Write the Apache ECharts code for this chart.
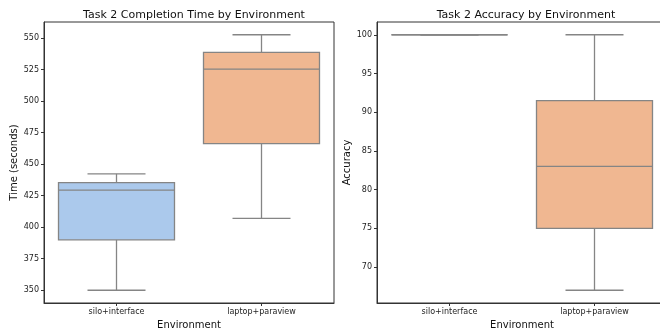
<!DOCTYPE html>
<html>
<head>
<meta charset="utf-8">
<script src="https://cdn.jsdelivr.net/npm/echarts@6/dist/echarts.min.js"></script>
<style>html,body{margin:0;padding:0;background:#fff}#c{width:660px;height:330px}</style>
</head>
<body>
<div id="c"></div>
<script>
const categories = ['silo+interface', 'laptop+paraview'];
// [low whisker, Q1, median, Q3, high whisker]
const timeStats = [
  [350, 390, 429.4, 435.4, 442.3],
  [407, 466.3, 525.4, 538.6, 552.6]
];
const accuracyStats = [
  [100, 100, 100, 100, 100],
  [67, 75, 83, 91.5, 100]
];
const timeTicks = [350, 375, 400, 425, 450, 475, 500, 525, 550];
const accTicks = [70, 75, 80, 85, 90, 95, 100];
const boxColors = ['#abc9ec', '#f0b791'];

const edge = '#858585';
const font = 'DejaVu Sans';

function renderBox(params, api) {
  const i = api.value(0);
  const v = [api.value(1), api.value(2), api.value(3), api.value(4), api.value(5)];
  const p = v.map(val => api.coord([i, val]));
  const band = api.size([1, 0])[0];
  const bw = band * 0.8;
  const cx = p[0][0];
  const st = {stroke: edge, lineWidth: 1.3};
  return {
    type: 'group',
    children: [
      {type: 'line', shape: {x1: cx, y1: p[0][1], x2: cx, y2: p[1][1]}, style: st},
      {type: 'line', shape: {x1: cx, y1: p[3][1], x2: cx, y2: p[4][1]}, style: st},
      {type: 'line', shape: {x1: cx - bw / 4, y1: p[0][1], x2: cx + bw / 4, y2: p[0][1]}, style: st},
      {type: 'line', shape: {x1: cx - bw / 4, y1: p[4][1], x2: cx + bw / 4, y2: p[4][1]}, style: st},
      {type: 'rect', shape: {x: cx - bw / 2, y: p[3][1], width: bw, height: p[1][1] - p[3][1]},
        style: {fill: boxColors[i], stroke: edge, lineWidth: 1.3}},
      {type: 'line', shape: {x1: cx - bw / 2, y1: p[2][1], x2: cx + bw / 2, y2: p[2][1]}, style: st}
    ]
  };
}

function toData(stats) {
  return stats.map((s, i) => [i].concat(s));
}

const axisLine = {show: true, lineStyle: {color: '#333', width: 1}};
const tickLbl = {fontFamily: font, fontSize: 8, color: '#222'};

function yAxis(idx, min, max, name, ticks) {
  return {
    type: 'value', gridIndex: idx, min: min, max: max,
    name: name, nameLocation: 'middle', nameGap: 20,
    nameTextStyle: {fontFamily: font, fontSize: 10, color: '#111'},
    axisLine: axisLine, splitLine: {show: false},
    axisTick: {show: true, length: 3, lineStyle: {color: '#333'}, customValues: ticks},
    axisLabel: Object.assign({margin: 5, customValues: ticks}, tickLbl)
  };
}

const option = {
  animation: false,
  backgroundColor: '#fff',
  title: [
    {text: 'Task 2 Completion Time by Environment', left: 189, top: 5, textAlign: 'center',
      textStyle: {fontFamily: font, fontSize: 11, fontWeight: 'normal', color: '#111'}},
    {text: 'Task 2 Accuracy by Environment', left: 521, top: 5, textAlign: 'center',
      textStyle: {fontFamily: font, fontSize: 11, fontWeight: 'normal', color: '#111'}}
  ],
  grid: [
    {left: 44, top: 22, width: 290, height: 281, outerBoundsMode: 'none', containLabel: false,
      show: true, borderColor: '#333', borderWidth: 1, backgroundColor: 'transparent'},
    {left: 377, top: 22, width: 290, height: 281, outerBoundsMode: 'none', containLabel: false,
      show: true, borderColor: '#333', borderWidth: 1, backgroundColor: 'transparent'}
  ],
  xAxis: [0, 1].map(g => ({
    type: 'category', gridIndex: g, data: categories, boundaryGap: true,
    name: 'Environment', nameLocation: 'middle', nameGap: 16,
    nameTextStyle: {fontFamily: font, fontSize: 10, color: '#111'},
    axisLine: axisLine,
    axisTick: {show: true, alignWithLabel: true, length: 3, lineStyle: {color: '#333'}},
    axisLabel: Object.assign({margin: 5}, tickLbl)
  })),
  yAxis: [
    yAxis(0, 339.9, 562.7, 'Time (seconds)', timeTicks),
    yAxis(1, 65.35, 101.65, 'Accuracy', accTicks)
  ],
  series: [
    {type: 'custom', xAxisIndex: 0, yAxisIndex: 0, renderItem: renderBox, data: toData(timeStats),
      encode: {x: 0, y: [1, 2, 3, 4, 5]}},
    {type: 'custom', xAxisIndex: 1, yAxisIndex: 1, renderItem: renderBox, data: toData(accuracyStats),
      encode: {x: 0, y: [1, 2, 3, 4, 5]}}
  ]
};
const chart = echarts.init(document.getElementById('c'), null, {renderer: 'canvas'});
chart.setOption(option);
</script>
</body>
</html>
